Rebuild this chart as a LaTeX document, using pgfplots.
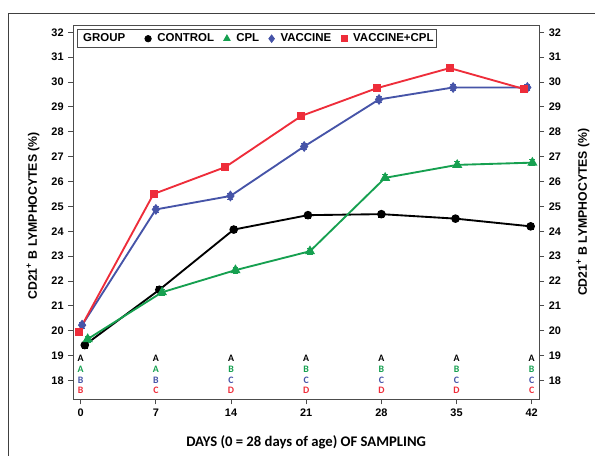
\documentclass[border=0pt]{standalone}
\usepackage{fontspec}
\setmainfont{Liberation Sans}
\newfontfamily\calibri{Carlito}
\usepackage{pgfplots}
\usepackage{pgfplotstable}
\pgfplotsset{compat=1.18}

\definecolor{cred}{RGB}{238,45,58}
\definecolor{cblue}{RGB}{70,84,168}
\definecolor{cgreen}{RGB}{22,160,80}

% x = day (slightly dodged as in the figure), y = mean, e = error
\pgfplotstableread{
x y e
0.38 19.43 0.12
7.32 21.65 0.12
14.25 24.07 0.12
21.16 24.65 0.12
28.00 24.69 0.12
34.90 24.51 0.12
41.90 24.20 0.12
}\control
\pgfplotstableread{
x y e
0.65 19.67 0.12
7.57 21.55 0.12
14.41 22.44 0.12
21.35 23.20 0.12
28.35 26.15 0.12
35.06 26.67 0.12
42.06 26.76 0.12
}\cpl
\pgfplotstableread{
x y e
0.13 20.23 0.12
7.00 24.88 0.12
13.94 25.42 0.12
20.81 27.41 0.12
27.78 29.30 0.12
34.68 29.78 0.12
41.59 29.78 0.12
}\vaccine
\pgfplotstableread{
x y e
-0.20 19.97 0.12
6.78 25.50 0.12
13.46 26.58 0.12
20.56 28.64 0.12
27.56 29.75 0.12
34.37 30.56 0.12
41.27 29.72 0.12
}\vaccinecpl

\pgfplotsset{
  series/.style={line width=1.4pt, color=#1, mark options={solid, fill=#1},
    error bars/y dir=both, error bars/y explicit,
    error bars/error mark options={rotate=90, mark size=2.2pt, line width=0.7pt, draw=#1},
    error bars/error bar style={line width=0.7pt, draw=#1}},
  letters/.style={draw=none, mark=none, forget plot, nodes near coords,
    point meta=explicit symbolic,
    every node near coord/.style={font=\calibri\bfseries\fontsize{7.4}{8}\selectfont,
      text=#1, anchor=center, inner sep=0pt}},
}

\begin{document}
\begin{tikzpicture}[x=0.75pt,y=0.75pt]
\useasboundingbox (0,0) rectangle (595,456);
\draw[black!75, line width=0.75pt] (8.3,-30) rectangle (650,442.7);

\begin{axis}[
  at={(54.975pt,42.525pt)}, anchor=south west, scale only axis,
  width=349.3pt, height=280.7pt,
  xmin=-0.69, xmax=42.68, ymin=17.25, ymax=32.29,
  xtick={0,7,...,42}, ytick={18,...,32},
  xtick pos=bottom, ytick pos=left, tick align=outside,
  major tick length=3.75pt,
  axis line style={black!70, line width=0.75pt},
  every tick/.style={black!70, line width=0.75pt},
  tick label style={font=\fontsize{8.2}{9}\selectfont\bfseries},
  /pgf/number format/assume math mode=true,
  xlabel={\calibri\bfseries DAYS (0 = 28 days of age) OF SAMPLING},
  every axis x label/.style={at={(axis description cs:0.5,-0.116)}, anchor=center,
    font=\fontsize{11}{12}\selectfont},
  ylabel={CD21\textsuperscript{+} B LYMPHOCYTES (\%)},
  every axis y label/.style={at={(axis description cs:-0.0865,0.49)}, anchor=center,
    rotate=90, font=\fontsize{9.2}{10}\selectfont\bfseries},
  legend columns=-1,
  legend image code/.code={\draw[#1] plot[only marks] coordinates {(0pt,0pt)};},
  legend style={at={(rel axis cs:0,1)}, anchor=north west, xshift=2.55pt, yshift=-3.2pt,
    draw=black!70, line width=0.6pt, inner xsep=0pt, inner ysep=1pt,
    font=\fontsize{8.6}{9}\selectfont\bfseries,
    /tikz/every odd column/.append style={column sep=2.6pt},
    /tikz/every even column/.append style={column sep=5.2pt}},
]
\addlegendimage{empty legend}
\addlegendentry{GROUP\rule{7.5pt}{0pt}}
\addlegendimage{black, mark=*, mark size=2.4pt}
\addlegendentry{CONTROL}
\addlegendimage{cgreen, mark=triangle*, mark size=2.8pt}
\addlegendentry{CPL}
\addlegendimage{cblue, mark=diamond*, mark size=2.8pt}
\addlegendentry{VACCINE}
\addlegendimage{cred, mark=square*, mark size=2.3pt}
\addlegendentry{VACCINE+CPL}

\addplot[series=black, mark=*, mark size=2.5pt, forget plot]
  table[x=x, y=y, y error=e] {\control};
\addplot[series=cgreen, mark=triangle*, mark size=3.0pt, forget plot]
  table[x=x, y=y, y error=e] {\cpl};
\addplot[series=cblue, mark=diamond*, mark size=3.0pt, forget plot]
  table[x=x, y=y, y error=e] {\vaccine};
\addplot[series=cred, mark=square*, mark size=2.3pt, forget plot]
  table[x=x, y=y, y error=e] {\vaccinecpl};

% significance letters under each day
\addplot[letters=black] table[meta=l] {
x y l
0 18.88 A
7 18.88 A
14 18.88 A
21 18.88 A
28 18.88 A
35 18.88 A
42 18.88 A
};
\addplot[letters=cgreen] table[meta=l] {
x y l
0 18.47 A
7 18.47 A
14 18.47 B
21 18.47 B
28 18.47 B
35 18.47 B
42 18.47 B
};
\addplot[letters=cblue] table[meta=l] {
x y l
0 18.03 B
7 18.03 B
14 18.03 C
21 18.03 C
28 18.03 C
35 18.03 C
42 18.03 C
};
\addplot[letters=cred] table[meta=l] {
x y l
0 17.60 B
7 17.60 C
14 17.60 D
21 17.60 D
28 17.60 D
35 17.60 D
42 17.60 C
};
\end{axis}

\begin{axis}[
  at={(54.975pt,42.525pt)}, anchor=south west, scale only axis,
  width=349.3pt, height=280.7pt,
  xmin=-0.69, xmax=42.68, ymin=17.25, ymax=32.29,
  axis x line=none, axis y line*=right,
  ytick={18,...,32}, tick align=outside, major tick length=3.75pt,
  axis line style={black!70, line width=0.75pt},
  every tick/.style={black!70, line width=0.75pt},
  tick label style={font=\fontsize{8.2}{9}\selectfont\bfseries},
  /pgf/number format/assume math mode=true,
  ylabel={CD21\textsuperscript{+} B LYMPHOCYTES (\%)},
  every axis y label/.style={at={(axis description cs:1.0945,0.5)}, anchor=center,
    rotate=90, font=\fontsize{9.2}{10}\selectfont\bfseries},
]
\addplot[draw=none] coordinates {(0,20)};
\end{axis}
\end{tikzpicture}
\end{document}
